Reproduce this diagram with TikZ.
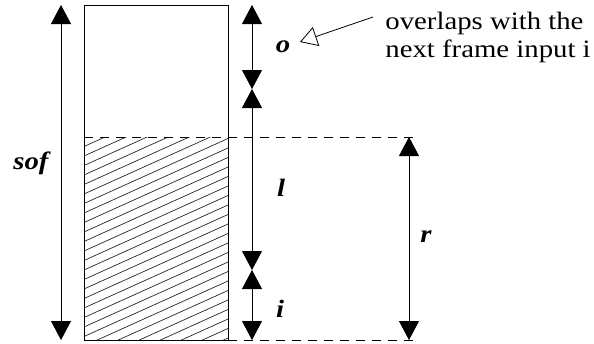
\documentclass[tikz,border=0pt]{standalone}
\usepackage{fontspec}
\setmainfont{Liberation Serif}
\usetikzlibrary{arrows.meta}
\tikzset{every picture/.style={line width=0.8pt}}

\begin{document}
\begin{tikzpicture}[x=1pt,y=-1pt,
  dim/.style={{Triangle[length=19pt,width=20pt]}-{Triangle[length=19pt,width=20pt]}},
  guide/.style={dash pattern=on 9pt off 7pt},
  hatch/.style={black!85,line width=0.7pt},
  lbl/.style={font=\fontsize{25}{28}\selectfont\bfseries\itshape,xscale=1.15,transform shape,inner sep=0pt},
  note/.style={font=\fontsize{25}{28}\selectfont,xscale=1.15,transform shape,inner sep=0pt,anchor=base west}]
\useasboundingbox (0,0) rectangle (594,343);
% frame and its filled part
\begin{scope}
\clip (84,137) rectangle (228,340);
\foreach \k in {0,...,30}
  \draw[hatch] (84,137+9.5*\k) -- ++(144,-65);
\end{scope}
\draw (84,5) rectangle (228,340);
\coordinate (rtop) at (84,137);
\coordinate (rtopend) at (420,137);
\coordinate (rbot) at (84,340);
\coordinate (rbotend) at (420,340);
\draw[guide] (rtop) -- (rtopend);
\draw[guide] (rbot) -- (rbotend);
% whole frame
\coordinate (sofa) at (61,5);
\coordinate (sofb) at (61,340);
\draw[dim] (sofa) -- (sofb);
\node[lbl] (sof) at (31,163) {sof};
% o, l, i
\coordinate (oa) at (252,5);
\coordinate (ob) at (252,89);
\coordinate (lb) at (252,270);
\coordinate (ib) at (252,340);
\draw[dim] (oa) -- (ob);
\draw[dim] (ob) -- (lb);
\draw[dim] (lb) -- (ib);
\node[lbl] (o) at (283,47) {o};
\node[lbl] (l) at (281,188) {l};
\node[lbl] (i) at (280,309) {i};
% r
\coordinate (ra) at (409,137);
\coordinate (rb) at (409,340);
\draw[dim] (ra) -- (rb);
\node[lbl] (r) at (426,237) {r};
% note
\node[note] (note1) at (385,29) {overlaps with the};
\node[note] (note2) at (385,57) {next frame input i};
\coordinate (ptr) at (373,17);
\coordinate (ptrtip) at (300,42);
\draw[-{Triangle[open,length=17pt,width=20pt]}] (ptr) -- (ptrtip);
\end{tikzpicture}
\end{document}
